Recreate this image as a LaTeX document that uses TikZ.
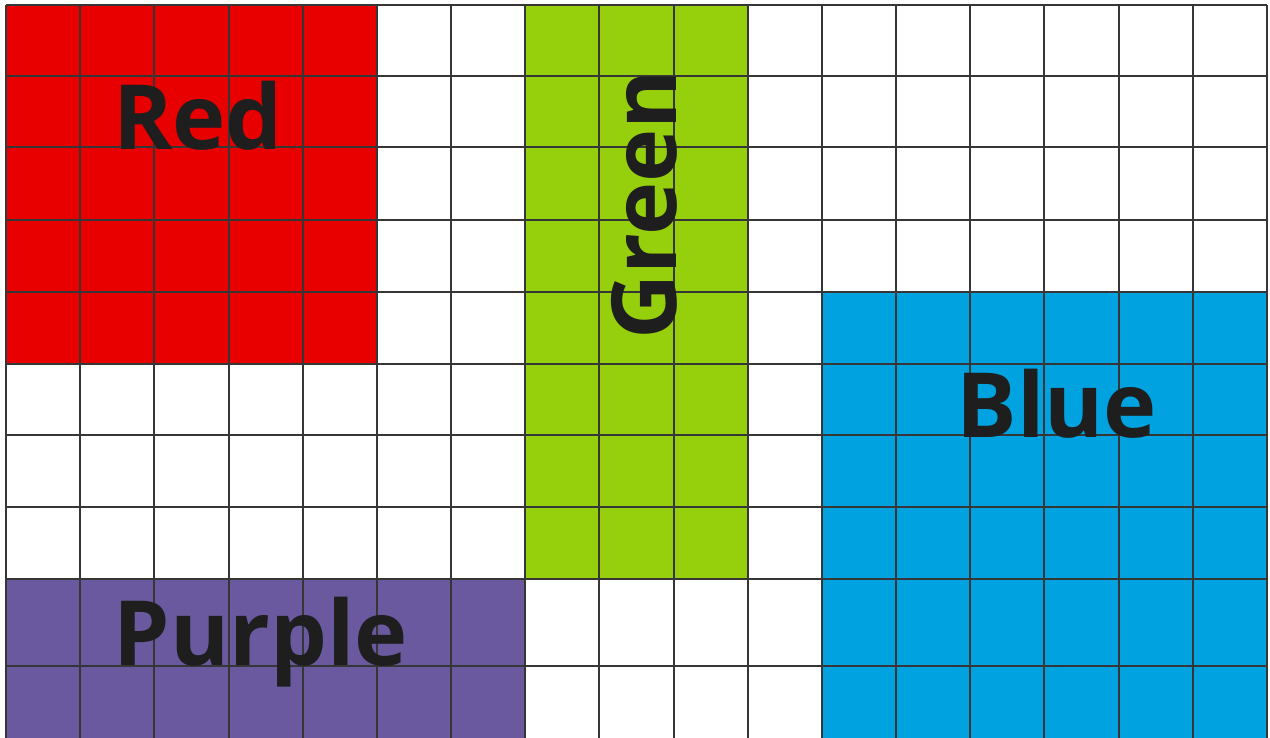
\documentclass[tikz,border=0pt]{standalone}
\usepackage{fontspec}
\setmainfont{Open Sans}
\definecolor{cred}{HTML}{E80000}
\definecolor{cgreen}{HTML}{96CF0B}
\definecolor{cblue}{HTML}{00A3E0}
\definecolor{cpurple}{HTML}{6A599E}
\definecolor{gridc}{HTML}{363636}
\definecolor{txt}{HTML}{1E1E1E}
\begin{document}
\begin{tikzpicture}[x=1pt,y=-1pt,
  gridline/.style={draw=gridc,line width=2pt},
  label/.style={text=txt,font=\fontsize{90}{90}\selectfont\bfseries,inner sep=0pt}]
\useasboundingbox (0,0) rectangle (1270,737);
\clip (0,0) rectangle (1270,737);
\fill[white] (0,0) rectangle (1270,737);
\def\cw{74.176}
% coloured blocks
\fill[cred] (6,5) rectangle (378,364);
\fill[cgreen] (525,5) rectangle (748,579);
\fill[cblue] (822,292) rectangle (1267,810);
\fill[cpurple] (6,579) rectangle (525,810);
% grid
\foreach \i in {0,...,17} {
  \draw[gridline] ({6+\i*\cw},5) -- ({6+\i*\cw},810);
}
\foreach \y in {5,76,147,220,292,364,435,507,579,666} {
  \draw[gridline] (6,\y) -- (1267,\y);
}
% labels
\node[label,anchor=base] (red) at (198,149) {Red};
\node[label,anchor=base,rotate=90] (green) at (676,205) {Green};
\node[label,anchor=base] (blue) at (1057,437) {Blue};
\node[label,anchor=base] (purple) at (261,665) {Purple};
\end{tikzpicture}
\end{document}
